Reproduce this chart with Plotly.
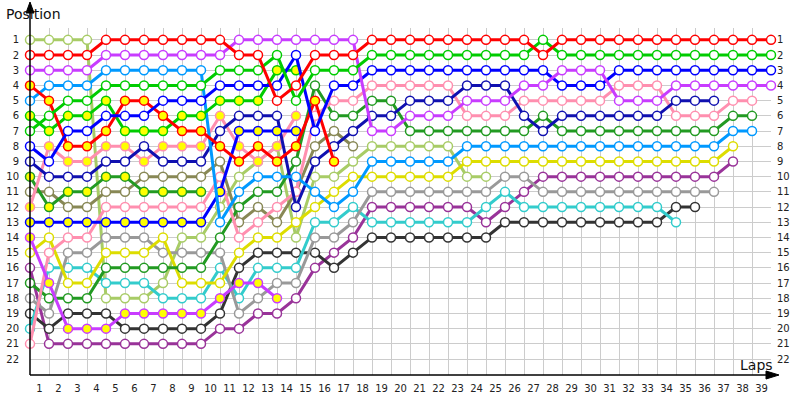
import plotly.graph_objects as go

# columns: 0 = starting grid, k = position after lap k
red = [2, 2, 2, 2, 1, 1, 1, 1, 1, 1, 1, 2, 2, 5, 4, 2, 2, 2] + [1] * 9 + [2] + [1] * 12
red_b = [4, 5, 8, 8, 7, 5, 5, 6, 7, 7, 8, 9, 8, 9, 8, 5, 9]
green = [7, 6, 5, 5, 4, 4, 4, 4, 4, 4, 3, 3, 3, 2, 5, 3, 3, 3] + [2] * 9 + [1] + [2] * 12
green_b = [6, 7, 6, 6, 5, 7, 7, 7, 6, 6, 5, 5, 5, 3, 3]
violet = [3, 3, 3, 3, 2, 2, 2, 2, 2, 2, 2, 1, 1, 1, 1, 1, 1, 1,
          7, 7, 6, 6, 6, 5, 5, 5, 4, 4, 3, 3, 3, 5, 5, 5, 4, 4, 4, 4, 4, 4]
violet_b = [14, 17, 20, 20, 20, 19, 19, 19, 19, 19, 18, 17, 17, 18]
blue = [8, 9, 7, 7, 6, 6, 6, 5, 5, 5, 4, 4, 4, 4, 2, 7, 4, 4] + [3] * 10 + [4, 4, 4] + [3] * 9
blue_b = [13, 13, 13, 13, 13, 13, 13, 13, 13, 13, 11, 7, 7, 7, 7]
navy = [9, 10, 10, 10, 9, 9, 8, 9, 9, 9, 7, 6, 6, 6, 12, 9, 8, 7, 6, 6,
        5, 5, 5, 4, 4, 4, 6, 7, 6, 6, 6, 6, 6, 6, 5, 5, 5]
pink = [21, 15, 14, 14, 12, 12, 12, 12, 12, 12, 10, 14, 13, 12, 11, 6, 5, 5,
        4, 4, 4, 4, 4, 6, 6, 6, 5, 5, 5, 5, 5, 4, 4, 4, 6, 6, 6, 5, 5]
pink_b = [12, 8, 9, 9, 8, 8, 9, 8, 8, 8, 6, 8, 9, 8, 6]
dkgreen = [17, 18, 18, 18, 16, 16, 16, 16, 16, 16, 14, 12, 11, 11, 9, 4, 6, 6, 5, 5,
           7, 7, 7, 7, 7, 7, 7, 6, 7, 7, 7, 7, 7, 7, 7, 7, 7, 6, 6]
dkgreen_b = [10, 12, 11, 11, 10, 10, 11, 11, 11, 11]
olive = [11, 11, 12, 12, 11, 11, 10, 10, 10, 10, 9, 13, 12, 13, 11, 8, 7, 8]
lime = [1, 1, 1, 1, 18, 18, 18, 17, 14, 14, 12, 10, 9, 8, 14, 10, 10, 9, 8, 8, 8, 8, 8, 10, 10]
sky = [5, 4, 4, 4, 3, 3, 3, 3, 3, 3, 13, 11, 10, 10, 10, 11, 12, 11,
       9, 9, 9, 9, 9] + [8] * 14 + [7, 7]
yellow = [15, 14, 17, 17, 15, 15, 15, 14, 17, 17, 17, 15, 14, 14, 13, 12, 11, 10,
          10, 10, 10, 10, 10] + [9] * 14 + [8]
gray = [18, 19, 15, 15, 14, 14, 14, 15, 15, 15, 15, 19, 18, 17, 17, 14, 14, 13,
        11, 11, 11, 11, 11, 11, 11, 10, 10] + [11] * 10
cyan = [20, 16, 16, 16, 17, 17, 17, 18, 18, 18, 16, 18, 16, 16, 16, 13, 13, 12,
        13, 13, 13, 13, 13, 13, 12, 11] + [12] * 8 + [13]
black = [19, 20, 19, 19, 19, 20, 20, 20, 20, 20, 19, 16, 15, 15, 15, 15, 16, 15] + [14] * 7 + [13] * 9 + [12, 12]
plum = [16, 21, 21, 21, 21, 21, 21, 21, 21, 21, 20, 20, 19, 19, 18, 16, 15, 14,
        12, 12, 12, 12, 12, 12, 13, 12, 11] + [10] * 10 + [9]

lap_labels = [str(k) for k in range(1, 40)]
pos_labels = [str(p) for p in range(1, 23)]

YELLOW = "#FFFF00"
series = [
    (lime, "#A8CC66", "white"),
    (plum, "#993399", "white"),
    (black, "#333333", "white"),
    (cyan, "#33CCCC", "white"),
    (gray, "#999999", "white"),
    (yellow, "#DDDD00", "white"),
    (olive, "#888855", "white"),
    (dkgreen_b, "#229A22", YELLOW),
    (dkgreen, "#229A22", "white"),
    (pink_b, "#FF8FAF", YELLOW),
    (pink, "#FF8FAF", "white"),
    (navy, "#1010B0", "white"),
    (blue_b, "#0000FF", YELLOW),
    (sky, "#0099FF", "white"),
    (violet_b, "#C83CFF", YELLOW),
    (green_b, "#00CC00", YELLOW),
    (red_b, "#FF0000", YELLOW),
    (blue, "#0000FF", "white"),
    (violet, "#C83CFF", "white"),
    (green, "#00CC00", "white"),
    (red, "#FF0000", "white"),
]

fig = go.Figure()
for vals, col, fill in series:
    fig.add_trace(go.Scatter(
        x=list(range(len(vals))), y=vals, mode="lines+markers",
        line=dict(color=col, width=3),
        marker=dict(size=9, color=fill, line=dict(color=col, width=1.5)),
        cliponaxis=False, hoverinfo="skip"))
# dummy trace for the right-hand position axis
fig.add_trace(go.Scatter(x=[0], y=[1], yaxis="y2", mode="markers",
                         marker=dict(opacity=0), hoverinfo="skip"))

# pixel frame of the plot area
L, R, T, B = 30, 771, 28, 375
ybot = 23.05
ytop = ybot - (B - T) / 15.2


def px(x):
    return (x - L) / (R - L)


def py(y):
    return (B - y) / (B - T)


font = dict(family="DejaVu Sans", size=10, color="#222222")
fig.update_layout(
    width=800, height=400,
    margin=dict(l=L, r=800 - R, t=T, b=400 - B),
    plot_bgcolor="white", paper_bgcolor="white",
    showlegend=False,
    xaxis=dict(range=[0, 39], tickvals=[k - 0.5 for k in range(1, 40)],
               ticktext=lap_labels, showgrid=False, zeroline=False,
               showline=False, ticks="", tickfont=font, ticklabelstandoff=6,
               automargin=False,
               minor=dict(tick0=0, dtick=1, showgrid=True,
                          gridcolor="#CCCCCC", gridwidth=1)),
    yaxis=dict(range=[ybot, ytop], tickvals=list(range(1, 23)),
               ticktext=pos_labels, showgrid=True, gridcolor="#CCCCCC",
               gridwidth=1, zeroline=False, showline=False, ticks="",
               tickfont=font, ticklabelstandoff=10, automargin=False),
    yaxis2=dict(range=[ybot, ytop], tickvals=list(range(1, 23)),
                ticktext=pos_labels, overlaying="y", side="right",
                showgrid=False, zeroline=False, showline=False, ticks="",
                tickfont=font, ticklabelstandoff=5, automargin=False),
)

axis_col = "#000000"
fig.add_shape(type="line", xref="paper", yref="paper",
              x0=px(30), y0=py(375), x1=px(30), y1=py(10),
              line=dict(color=axis_col, width=1.5))
fig.add_shape(type="line", xref="paper", yref="paper",
              x0=px(30), y0=py(375), x1=px(775), y1=py(375),
              line=dict(color=axis_col, width=1.5))
fig.add_shape(type="path", xref="paper", yref="paper",
              path=f"M {px(26)} {py(13)} L {px(30)} {py(2)} L {px(34)} {py(13)} Z",
              fillcolor=axis_col, line=dict(color=axis_col, width=1))
fig.add_shape(type="path", xref="paper", yref="paper",
              path=f"M {px(766)} {py(371)} L {px(779)} {py(375)} L {px(766)} {py(379)} Z",
              fillcolor=axis_col, line=dict(color=axis_col, width=1))

fig.add_annotation(text="Position", xref="paper", yref="paper",
                   x=px(4), y=py(14), xanchor="left", yanchor="middle",
                   showarrow=False,
                   font=dict(family="DejaVu Sans", size=14, color="#111111"))
fig.add_annotation(text="Laps", xref="paper", yref="paper",
                   x=px(775), y=py(365), xanchor="right", yanchor="middle",
                   showarrow=False,
                   font=dict(family="DejaVu Sans", size=14, color="#111111"))

# the page's default 8px body margin would shift the figure
fig.write_html("out.html", config={"displayModeBar": False},
               post_script="document.body.style.margin = '0';")
